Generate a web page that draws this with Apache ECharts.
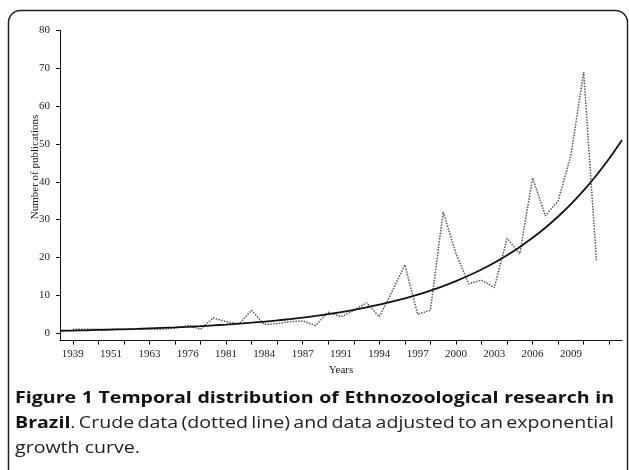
<!DOCTYPE html>
<html><head><meta charset="utf-8">
<script src="https://cdn.jsdelivr.net/npm/echarts@6/dist/echarts.min.js"></script>
<style>html,body{margin:0;padding:0;background:#fff}#c{width:629px;height:470px}</style>
</head><body><div id="c"></div>
<script>
// Years that have publications (one category each)
const years = ['1939','1945','1948','1951','1955','1959','1963','1968','1972','1976','1978','1980',
  '1981','1982','1983','1984','1985','1986','1987','1988','1990','1991','1992','1993','1994','1995',
  '1996','1997','1998','1999','2000','2001','2002','2003','2004','2005','2006','2007','2008','2009','2010','2011'];
// Crude data (dotted line)
const publications = [1,1,1,1,1,1,1,1,1.3,2,1,4,
  3,2.4,6,2.3,2.5,3,3.2,2,5.5,4.3,6,8,4.3,11,
  18,5,6,32,21,13,14,12,25,21,41,31,35,47,69,19];
// Exponential trend (one period before and two after the data)
const trendBefore = [0.6];
const trendValues = [0.66,0.73,0.81,0.9,0.99,1.1,1.22,1.35,1.49,1.65,1.82,
  2.02,2.23,2.47,2.73,3.02,3.34,3.7,4.09,4.52,5.0,5.53,6.12,6.77,7.49,
  8.29,9.17,10.15,11.22,12.42,13.74,15.2,16.81,18.6,20.57,22.76,25.18,27.85,30.81,34.09,37.71];
const trendAfter = [41.72,46.15,51.06];
const yTicks = [0,10,20,30,40,50,60,70,80];

const categories = [''].concat(years, ['', '']);
const crude = [null].concat(publications, [null, null]);
const trend = trendBefore.concat(trendValues, trendAfter);

const chart = echarts.init(document.getElementById('c'), null, {renderer:'canvas'});

// caption layout (justified lines, horizontally stretched like the reference)
const capFont = '"Open Sans", "Noto Sans", sans-serif';
const capSize = 16;
const cvs = document.createElement('canvas').getContext('2d');
function w(t, bold){ cvs.font = (bold?'bold ':'') + capSize + 'px ' + capFont; return cvs.measureText(t).width; }
const capLines = [
  {y:398, justify:true, words:[[['Figure',1]],[['1',1]],[['Temporal',1]],[['distribution',1]],[['of',1]],[['Ethnozoological',1]],[['research',1]],[['in',1]]]},
  {y:423, justify:true, words:[[['Brazil',1],['.',0]],[['Crude',0]],[['data',0]],[['(dotted',0]],[['line)',0]],[['and',0]],[['data',0]],[['adjusted',0]],[['to',0]],[['an',0]],[['exponential',0]]]},
  {y:448, justify:false, words:[[['growth',0]],[['curve.',0]]]}
];
const capLeft = 15, capRight = 614;
function wordW(wd){ return wd.reduce(function(s,p){return s + w(p[0], p[1]);},0); }
const l1 = capLines[0];
const l1Nat = l1.words.reduce(function(s,wd){return s + wordW(wd);},0) + (l1.words.length-1)*w(' ',1)*1.1;
const kx = (capRight - capLeft) / l1Nat;
const graphics = [];
capLines.forEach(function(line){
  const ww = line.words.map(function(wd){ return wordW(wd) * kx; });
  const total = ww.reduce(function(a,b){return a+b;},0);
  const gap = line.justify ? (capRight - capLeft - total) / (line.words.length - 1) : w(' ', 0) * kx;
  let x = capLeft;
  line.words.forEach(function(wd){
    wd.forEach(function(p){
      graphics.push({type:'text', x:x, y:line.y, scaleX:kx, silent:true,
        style:{text:p[0], fontFamily:capFont, fontSize:capSize, fontWeight:p[1]?'bold':'normal',
          fill:p[1]?'#111':'#222', textAlign:'left', textVerticalAlign:'middle'}});
      x += w(p[0], p[1]) * kx;
    });
    x += gap;
  });
});
// outer frame
graphics.push({type:'rect', silent:true, shape:{x:8.5, y:10.5, width:619, height:500, r:12},
  style:{fill:'none', stroke:'#222', lineWidth:1.5}});
// y axis title
graphics.push({type:'text', x:35, y:167, rotation:Math.PI/2, silent:true,
  style:{text:'Number of publications', fontFamily:'"Liberation Serif", serif', fontSize:11, fill:'#222',
    textAlign:'center', textVerticalAlign:'middle'}});

const option = {
  animation:false,
  backgroundColor:'#fff',
  grid:{left:60, right:7, top:30.5, bottom:129.4, containLabel:false},
  xAxis:{
    type:'category', data:categories, boundaryGap:false,
    name:'Years', nameLocation:'middle', nameGap:20,
    nameTextStyle:{fontFamily:'"Liberation Serif", serif', fontSize:11, color:'#222'},
    axisLine:{onZero:false, lineStyle:{color:'#111', width:1}},
    axisTick:{interval:function(i){return i % 2 === 1;}, length:4, lineStyle:{color:'#111'}},
    axisLabel:{interval:function(i){return i % 3 === 1;}, margin:8, fontFamily:'"Liberation Serif", serif', fontSize:11, color:'#222'},
    splitLine:{show:false}
  },
  yAxis:{
    type:'value', min:-2, max:80,
    axisLine:{show:true, onZero:false, lineStyle:{color:'#111', width:1}},
    axisTick:{show:true, customValues:yTicks, length:4, lineStyle:{color:'#111'}},
    axisLabel:{customValues:yTicks, margin:10, fontFamily:'"Liberation Serif", serif', fontSize:11, color:'#222'},
    splitLine:{show:false}
  },
  series:[
    {type:'line', data:crude, symbol:'none', connectNulls:false,
      lineStyle:{color:'#555', width:1.5, type:[1.5,1.3]}, z:2},
    {type:'line', data:trend, symbol:'none', smooth:0.3,
      lineStyle:{color:'#111', width:1.8}, z:3}
  ],
  graphic:graphics
};
chart.setOption(option);
</script>
</body></html>
